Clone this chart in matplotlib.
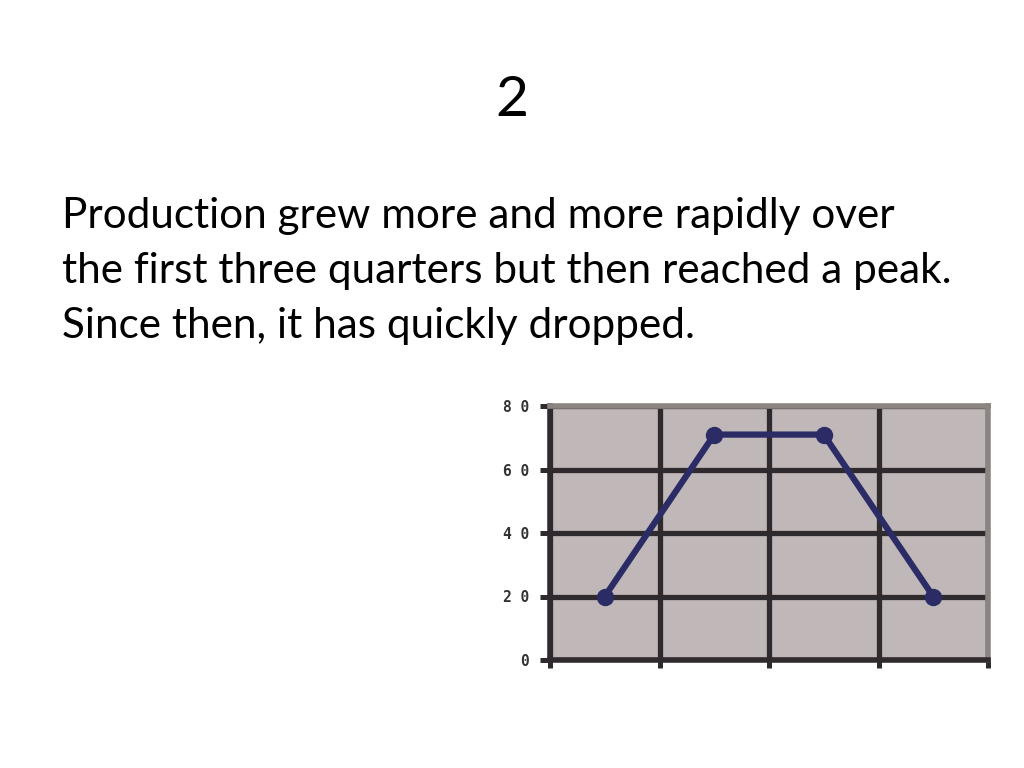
import matplotlib
matplotlib.use("Agg")
import matplotlib.pyplot as plt
from matplotlib.ticker import FixedLocator, NullFormatter

# Data
quarters = ["Q1", "Q2", "Q3", "Q4"]
production = [20, 71, 71, 20]
y_ticks = [0, 20, 40, 60, 80]
y_tick_labels = ["0", "2 0", "4 0", "6 0", "8 0"]

title_text = "2"
body_lines = [
    "Production grew more and more rapidly over",
    "the first three quarters but then reached a peak.",
    "Since then, it has quickly dropped.",
]

fig = plt.figure(figsize=(10.24, 7.68), dpi=100)
fig.patch.set_facecolor("white")

# Slide title and text
fig.text(512 / 1024, 1 - 116 / 768, title_text, ha="center", va="baseline",
         fontsize=41, family="Lato", color="black")
baselines = [228, 283, 338]
for line, yb in zip(body_lines, baselines):
    fig.text(62 / 1024, 1 - yb / 768, line, ha="left", va="baseline",
             fontsize=30.4, family="Lato", color="black")

# Chart
left, right, top, bottom = 550, 988, 406, 660
ax = fig.add_axes([left / 1024, 1 - bottom / 768, (right - left) / 1024, (bottom - top) / 768])
ax.set_facecolor("#c0b8b8")

x = [i + 0.5 for i in range(len(quarters))]
ax.plot(x, production, color="#2b2b66", linewidth=4.5, marker="o",
        markersize=11.5, zorder=5, solid_capstyle="round")

ax.set_xlim(0, len(quarters))
ax.set_ylim(0, 80)
ax.xaxis.set_major_locator(FixedLocator(range(len(quarters) + 1)))
ax.xaxis.set_major_formatter(NullFormatter())
ax.set_yticks(y_ticks)
ax.set_yticklabels(y_tick_labels, family="DejaVu Sans Mono", fontweight="bold",
                   fontsize=10.5, color="#333333")

ax.grid(True, color="#2f2a2d", linewidth=3.8, zorder=1)
ax.set_axisbelow(True)

for s in ["left", "bottom"]:
    ax.spines[s].set_color("#2f2a2d")
    ax.spines[s].set_linewidth(4)
for s in ["top", "right"]:
    ax.spines[s].set_color("#8c8480")
    ax.spines[s].set_linewidth(4)

ax.tick_params(axis="y", direction="out", length=7, width=3.6, color="#2f2a2d", pad=8)
ax.tick_params(axis="x", direction="out", length=6, width=3.6, color="#2f2a2d")

fig.savefig("out.png", dpi=100, facecolor="white")
